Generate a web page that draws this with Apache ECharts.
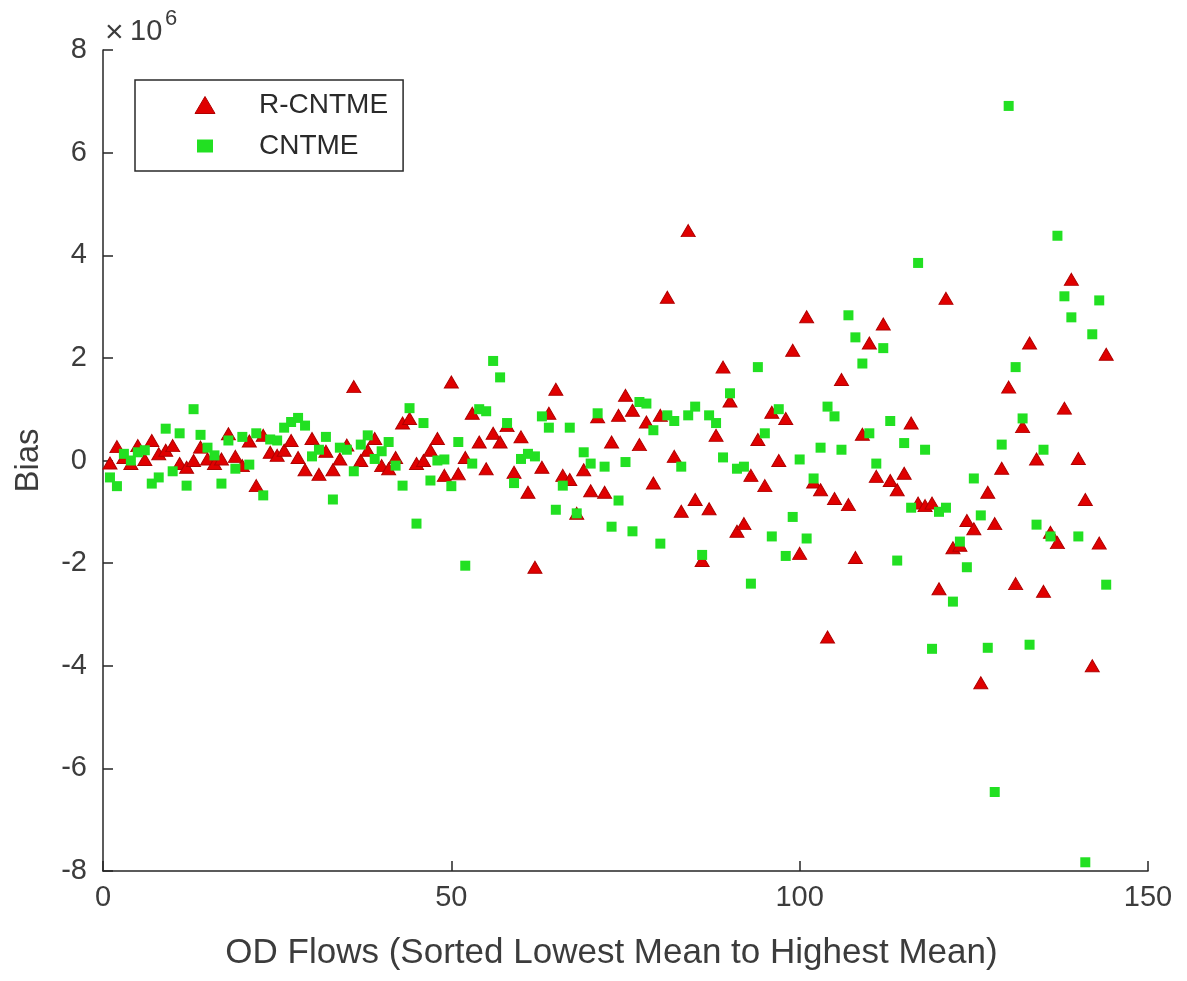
<!DOCTYPE html>
<html>
<head>
<meta charset="utf-8">
<script src="https://cdn.jsdelivr.net/npm/echarts@6/dist/echarts.min.js"></script>
<style>
  html, body { margin: 0; padding: 0; background: #ffffff; }
  #chart { width: 1187px; height: 981px; }
</style>
</head>
<body>
<div id="chart"></div>
<script>
// Bias per OD flow (units of 10^6), flows sorted from lowest to highest mean
const seriesNames = ['R-CNTME', 'CNTME'];

const biasRCNTME = [
  -0.05, 0.27, 0.06, -0.06, 0.29, 0.02, 0.39, 0.13, 0.2, 0.29,
  -0.06, -0.13, 0, 0.26, 0.03, -0.06, 0.03, 0.52, 0.08, -0.1,
  0.38, -0.49, 0.49, 0.16, 0.1, 0.2, 0.39, 0.06, -0.18, 0.43,
  -0.27, 0.18, -0.18, 0.03, 0.3, 1.44, 0, 0.2, 0.43, -0.1,
  -0.16, 0.06, 0.73, 0.82, -0.06, 0, 0.2, 0.43, -0.29, 1.53,
  -0.26, 0.06, 0.92, 0.36, -0.16, 0.53, 0.36, 0.68, -0.23, 0.46,
  -0.62, -2.08, -0.13, 0.92, 1.39, -0.29, -0.37, -1.03, -0.18, -0.59,
  0.85, -0.62, 0.36, 0.88, 1.27, 0.98, 0.31, 0.75, -0.44, 0.88,
  3.18, 0.08, -0.99, 4.48, -0.76, -1.95, -0.94, 0.49, 1.82, 1.16,
  -1.38, -1.23, -0.29, 0.41, -0.49, 0.94, 0, 0.82, 2.15, -1.81,
  2.8, -0.42, -0.57, -3.44, -0.74, 1.58, -0.86, -1.89, 0.51, 2.29,
  -0.31, 2.66, -0.39, -0.57, -0.25, 0.73, -0.83, -0.88, -0.83, -2.5,
  3.16, -1.7, -1.65, -1.17, -1.33, -4.33, -0.62, -1.23, -0.15, 1.43,
  -2.4, 0.66, 2.29, 0.03, -2.55, -1.4, -1.6, 1.02, 3.53, 0.04,
  -0.76, -4.0, -1.61, 2.07
];

const biasCNTME = [
  -0.33, -0.5, 0.13, 0, 0.16, 0.2, -0.45, -0.33, 0.62, -0.21,
  0.53, -0.49, 1.0, 0.5, 0.25, 0.1, -0.45, 0.39, -0.16, 0.46,
  -0.08, 0.53, -0.68, 0.41, 0.39, 0.64, 0.75, 0.83, 0.68, 0.08,
  0.21, 0.46, -0.76, 0.25, 0.21, -0.21, 0.31, 0.49, 0.03, 0.18,
  0.36, -0.1, -0.49, 1.02, -1.23, 0.73, -0.39, 0, 0.02, -0.5,
  0.36, -2.05, -0.06, 1.0, 0.96, 1.94, 1.62, 0.73, -0.44, 0.03,
  0.13, 0.08, 0.86, 0.64, -0.96, -0.49, 0.64, -1.03, 0.16, -0.06,
  0.92, -0.12, -1.29, -0.78, -0.03, -1.38, 1.14, 1.11, 0.59, -1.62,
  0.88, 0.77, -0.12, 0.88, 1.05, -1.84, 0.88, 0.73, 0.06, 1.31,
  -0.16, -0.12, -2.4, 1.82, 0.53, -1.48, 1.0, -1.86, -1.1, 0.02,
  -1.52, -0.35, 0.25, 1.05, 0.86, 0.21, 2.83, 2.4, 1.89, 0.53,
  -0.06, 2.19, 0.77, -1.95, 0.34, -0.92, 3.85, 0.21, -3.67, -1.0,
  -0.92, -2.75, -1.58, -2.08, -0.35, -1.07, -3.65, -6.46, 0.31, 6.91,
  1.82, 0.82, -3.59, -1.25, 0.21, -1.48, 4.38, 3.2, 2.79, -1.48,
  -7.83, 2.46, 3.12, -2.42
];

const xTicks = { min: 0, max: 150, interval: 50 };
const yTicks = { min: -8, max: 8, interval: 2 };

// Pair each bias with its flow number (1-based position in the sorted list)
const toPoints = arr => arr.map((v, i) => [i + 1, v]);

const axisColor = '#262626';
const labelColor = '#3c3c3c';
const redFill = '#e00000';
const greenFill = '#22e022';
const fontFamily = '"Liberation Sans", Arial, Helvetica, sans-serif';

const chart = echarts.init(document.getElementById('chart'), null, { renderer: 'canvas' });

chart.setOption({
  animation: false,
  backgroundColor: '#ffffff',
  grid: { left: 103, right: 39, top: 50, bottom: 110, containLabel: false },
  legend: {
    left: 135,
    top: 80,
    orient: 'vertical',
    data: [
      { name: seriesNames[0], icon: 'triangle', itemStyle: { color: redFill, borderColor: '#b00000', borderWidth: 1 } },
      { name: seriesNames[1], icon: 'rect', itemStyle: { color: greenFill, borderColor: '#ffffff', borderWidth: 4 } }
    ],
    itemWidth: 20,
    itemHeight: 17,
    itemGap: 11,
    padding: [10, 15, 10, 58],
    borderColor: '#2a2a2a',
    borderWidth: 1.5,
    backgroundColor: '#ffffff',
    textStyle: {
      fontFamily: fontFamily,
      fontSize: 28,
      lineHeight: 30,
      color: '#2a2a2a',
      padding: [0, 0, 0, 39]
    }
  },
  xAxis: {
    type: 'value',
    min: xTicks.min,
    max: xTicks.max,
    interval: xTicks.interval,
    name: 'OD Flows (Sorted Lowest Mean to Highest Mean)',
    nameLocation: 'middle',
    nameGap: 65,
    nameTextStyle: { fontFamily: fontFamily, fontSize: 35, color: labelColor, padding: [0, 28, 0, 0] },
    axisLine: { show: true, onZero: false, lineStyle: { color: axisColor, width: 1.5 } },
    axisTick: { show: true, inside: true, length: 10, lineStyle: { color: axisColor, width: 1.5 } },
    axisLabel: { fontFamily: fontFamily, fontSize: 29, color: labelColor, margin: 12 },
    splitLine: { show: false }
  },
  yAxis: {
    type: 'value',
    min: yTicks.min,
    max: yTicks.max,
    interval: yTicks.interval,
    name: 'Bias',
    nameLocation: 'middle',
    nameRotate: 90,
    nameGap: 58,
    nameTextStyle: { fontFamily: fontFamily, fontSize: 33, color: labelColor },
    axisLine: { show: true, onZero: false, lineStyle: { color: axisColor, width: 1.5 } },
    axisTick: { show: true, inside: true, length: 10, lineStyle: { color: axisColor, width: 1.5 } },
    axisLabel: { fontFamily: fontFamily, fontSize: 29, color: labelColor, margin: 16 },
    splitLine: { show: false }
  },
  graphic: [
    {
      type: 'text',
      left: 105,
      top: 17,
      style: { text: '×', fontFamily: fontFamily, fontSize: 32, fill: labelColor }
    },
    {
      type: 'text',
      left: 130,
      top: 17,
      style: { text: '10', fontFamily: fontFamily, fontSize: 29, fill: labelColor }
    },
    {
      type: 'text',
      left: 165,
      top: 8,
      style: { text: '6', fontFamily: fontFamily, fontSize: 22, fill: labelColor }
    }
  ],
  series: [
    {
      name: seriesNames[0],
      type: 'scatter',
      symbol: 'triangle',
      symbolSize: [14, 12],
      itemStyle: { color: redFill, borderColor: '#b00000', borderWidth: 1, opacity: 1 },
      data: toPoints(biasRCNTME),
      z: 2
    },
    {
      name: seriesNames[1],
      type: 'scatter',
      symbol: 'rect',
      symbolSize: 10,
      itemStyle: { color: greenFill, opacity: 1 },
      data: toPoints(biasCNTME),
      z: 3
    }
  ]
});
</script>
</body>
</html>
